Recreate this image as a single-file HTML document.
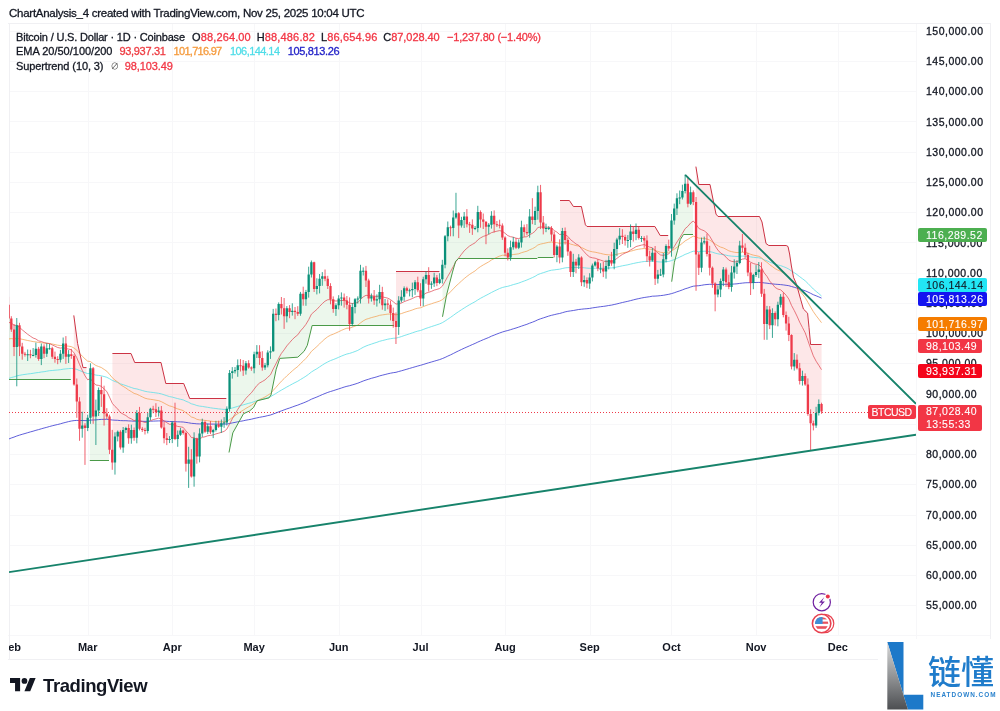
<!DOCTYPE html>
<html lang="en"><head><meta charset="utf-8"><title>BTCUSD chart</title>
<style>
html,body{margin:0;padding:0;background:#fff}
body{width:1000px;height:711px;position:relative;overflow:hidden;font-family:"Liberation Sans","Noto Sans CJK SC",sans-serif;color:#131722}
.t{position:absolute;white-space:nowrap;line-height:1;-webkit-text-stroke:0.3px currentColor}
.title{left:9px;top:7px;font-size:12px;letter-spacing:-0.1px}
.lg{left:16px;font-size:11.5px}
.lg span{margin-left:6px}
.r{color:#f23645}.r2{color:#e8474f}.or{color:#f5a14a}.cy{color:#5fdfe8}.bl{color:#2a2ad4}
.ax{left:926px;font-size:10.5px;letter-spacing:0.5px}
.mo{font-size:11px;font-weight:bold;-webkit-text-stroke:0;transform:translateX(-50%);top:642px}
.tx{position:absolute;left:9px;top:636px;width:907px;height:23px;overflow:hidden}
.pl{position:absolute;left:918px;height:14px;border-radius:2px;color:#fff;font-size:10.5px;letter-spacing:0.5px;line-height:14px;padding-left:8px;-webkit-text-stroke:0.1px currentColor;box-sizing:border-box;white-space:nowrap}
.tv{left:43px;top:676.5px;-webkit-text-stroke:0;font-size:18.5px;font-weight:bold;letter-spacing:-0.4px;color:#131722}
.wm1{-webkit-text-stroke:0;left:928px;top:654px;font-size:33px;font-weight:500;color:#1f7ccb;font-family:"Noto Sans CJK SC","Liberation Sans",sans-serif}
.wm2{-webkit-text-stroke:0;left:930.5px;top:691.6px;font-size:6.4px;font-weight:bold;color:#2a82cd;letter-spacing:1.02px}
</style></head><body>
<svg width="1000" height="711" viewBox="0 0 1000 711" style="position:absolute;left:0;top:0">
<defs><clipPath id="cp"><rect x="9" y="23" width="907" height="612"/></clipPath><linearGradient id="lg" x1="0" y1="0" x2="0" y2="1"><stop offset="0" stop-color="#d9d9d9"/><stop offset="0.45" stop-color="#9a9c9e"/><stop offset="1" stop-color="#4d4f52"/></linearGradient></defs>
<path d="M9 605.5H916M9 575.5H916M9 545.5H916M9 515.5H916M9 484.5H916M9 454.5H916M9 424.5H916M9 394.5H916M9 363.5H916M9 333.5H916M9 303.5H916M9 273.5H916M9 242.5H916M9 212.5H916M9 182.5H916M9 152.5H916M9 121.5H916M9 91.5H916M9 61.5H916M9 31.5H916M88.5 23V635M172.5 23V635M254.5 23V635M339.5 23V635M421.5 23V635M505.5 23V635M590.5 23V635M671.5 23V635M756.5 23V635M838.5 23V635" stroke="#f7f7f9" stroke-width="1" fill="none"/>
<path d="M916.5 23V659M8 635.5H991" stroke="#f7f7f9" stroke-width="1" fill="none"/>
<path d="M9.5 23V659M8 23.5H991M990.5 23V659M8 659.5H991" stroke="#f0f0f3" stroke-width="1" fill="none"/>
<g clip-path="url(#cp)">
<path d="M6 379.5L70.8 379.5L70.8 355.5L68.6 355.5L65.9 350L63.1 348.5L60.4 356.7L57.7 359.4L55 357.9L52.2 352.5L49.5 348.2L46.8 350.9L44.1 350L41.3 352.8L38.6 354L35.9 351.8L33.1 354.9L30.4 354.6L27.7 354.3L25 354L22.2 350L19.5 335.8L16.8 336.1L14 338.2L11.3 324L8.6 311.6L6 307.7Z" fill="rgba(76,175,80,0.105)"/>
<path d="M73.8 315.4L77.6 343.5L83 367.6L86.5 367.6L86.5 426.8L85 426.8L82.2 427.1L79.5 415.1L76.8 393L74.1 370.3L73.8 370.3Z" fill="rgba(242,54,69,0.12)"/>
<path d="M89.8 460.5L109 460.5L109 415.1L106.8 415.1L104.1 403.9L101.3 392.1L98.6 400.2L95.9 413.5L93.2 392.4L90.4 393L89.8 393Z" fill="rgba(76,175,80,0.105)"/>
<path d="M112.4 353.5L131 353.5L134.7 362.5L161 362.5L165.8 383.5L183.7 383.5L189.7 398.5L226.3 398.5L226.3 422.9L224.1 422.9L221.4 425L218.6 425.6L215.9 427.1L213.2 431.1L210.5 429.3L207.7 429L205 426.8L202.3 427.8L199.5 445L196.8 447.4L194.1 457.4L191.4 468L188.6 461.6L185.9 448.3L183.2 431.7L180.5 432.6L177.7 436.8L175 430.8L172.3 430.8L169.5 439.5L166.8 439.2L164.1 432.9L161.4 419L158.6 411.4L155.9 410.8L153.2 409L150.4 412.9L147.7 424.1L145 430.5L142.3 429.3L139.5 420.8L136.8 425.3L134.1 433.8L131.3 434.1L128.6 433.2L125.9 429L123.2 438.6L120.4 439.5L117.7 434.1L115 449.5L112.4 456.2Z" fill="rgba(242,54,69,0.12)"/>
<path d="M229 452.5L232.8 432.9L243.5 413.7L249.5 411L253.5 407.5L257 400.8L269 397.9L271 395L276.2 369.2L279.8 358.4L297.8 357.2L304.2 351.2L307.3 345.3L312.1 325.5L394 325.5L394 317.1L393.2 317.1L390.5 308.9L387.8 304.1L385.1 304.4L382.3 298.6L379.6 295.6L376.9 299.8L374.1 298.3L371.4 297.4L368.7 289.6L366 275.6L363.2 270.8L360.5 284.7L357.8 298.9L355 303.2L352.3 315.6L349.6 314.4L346.9 302.6L344.1 298.9L341.4 298L338.7 302L335.9 307.1L333.2 304.1L330.5 292.6L327.8 282.3L325 277.5L322.3 277.5L319.6 282.3L316.9 287.4L314.1 275.6L311.4 268.4L308.7 283.2L305.9 295.6L303.2 296.5L300.5 303.8L297.8 312.8L295 311.3L292.3 311.3L289.6 310.1L286.8 312.2L284.1 312.2L281.4 306.2L278.7 309.5L275.9 314.4L273.2 332.5L270.5 351.8L267.7 358.8L265 366.4L262.3 362.7L259.6 354.9L256.8 353.1L254.1 361.2L251.4 367.9L248.7 365.5L245.9 367L243.2 368.2L240.5 365.5L237.7 367.6L235 370.6L232.3 372.1L229.6 390.9L229 390.9Z" fill="rgba(76,175,80,0.105)"/>
<path d="M396 271.5L439.4 271.5L439.4 281L436.9 280.2L434.2 280.5L431.4 284.1L428.7 279.9L426 277.2L423.2 288.9L420.5 294.4L417.8 286.2L415.1 285.6L412.3 289.6L409.6 290.5L406.9 289.6L404.1 292.6L401.4 298.6L398.7 313.7L396 324Z" fill="rgba(242,54,69,0.12)"/>
<path d="M442.5 316.8L446.6 294.8L452.5 272.1L455.6 261.3L458.5 258.5L537 258.5L538 257.5L553.4 257.5L553.4 231.2L551.5 231.2L548.7 227.9L546 228.2L543.3 225.4L540.5 207.3L537.8 201.6L535.1 215.5L532.4 218.2L529.6 224.8L526.9 232.7L524.2 229.7L521.5 234.8L518.7 245.1L516 244.8L513.3 244.5L510.5 252.4L507.8 255.1L505.1 245.1L502.4 231.5L499.6 225.1L496.9 224.5L494.2 220L491.4 220.3L488.7 225.7L486 224.2L483.3 220.6L480.5 215.8L477.8 220L475.1 228.2L472.3 226.7L469.6 224.5L466.9 220.3L464.2 218.2L461.4 222.7L458.7 219.4L456 215.5L453.3 222.7L450.5 227.6L447.8 231.8L445.1 250.5L442.5 272Z" fill="rgba(76,175,80,0.105)"/>
<path d="M560 200.5L569.4 200.5L573.4 206.5L581.4 206.5L585.4 224.8L587 226.5L654.9 226.5L660.2 235.5L668.2 235.5L668.2 252.7L666 252.7L663.3 266.9L660.6 274.4L657.9 276.6L655.1 265.7L652.4 256.6L649.7 258.4L646.9 248.4L644.2 239.4L641.5 238.1L638.8 233.9L636 231.8L633.3 232.7L630.6 235.7L627.8 240.3L625.1 238.8L622.4 236.3L619.7 237.5L616.9 244.2L614.2 256.3L611.5 261.7L608.7 262.9L606 268.7L603.3 269.9L600.6 268.4L597.8 265.4L595.1 263.9L592.4 271.4L589.7 280.5L586.9 281.7L584.2 281.1L581.5 269.9L578.7 261.4L576 263.5L573.3 266.9L570.6 261.7L567.8 245.7L565.1 235.4L562.4 244.2L560 252.1Z" fill="rgba(242,54,69,0.12)"/>
<path d="M671.7 281.7L674.4 262.2L677.6 250.2L680.3 239.5L683.5 234.5L693 234.5L693 197.1L690.6 197.9L687.9 193.7L685.1 187.3L682.4 194.3L679.7 197.9L676.9 203.4L674.2 214.6L671.7 234.5Z" fill="rgba(76,175,80,0.105)"/>
<path d="M695.9 166.6L698.8 184.5L710 184.5L716 214.1L718 216.5L759.5 216.5L762 222L766 243.5L768.8 245.5L786.2 245.5L788 246.5L789.6 254L791.4 266L793.5 277.3L796.3 283.7L800.6 299.2L803.4 309L807.6 313.2L809 327.3L810.6 344.5L821.6 344.5L821.6 407.8L821.5 407.8L818.8 408.4L816.1 419.3L813.3 424.4L810.6 418.7L807.9 399.3L805.2 380.3L802.4 378.5L799.7 374.5L797 363.9L794.3 363L791.5 350.6L788.8 329.2L786.1 319.2L783.3 305.9L780.6 300.7L777.9 311.9L775.2 316.2L772.4 319.2L769.7 317.4L767 316.8L764.2 308.9L761.5 281.7L758.8 270.8L756.1 273.5L753.3 279L750.6 277.8L747.9 263.9L745.1 251.5L742.4 246.6L739.7 254.2L737 264.8L734.2 269.6L731.5 279.9L728.8 284.7L726.1 275.9L723.3 275.3L720.6 285.3L717.9 292L715.1 288.9L712.4 275.6L709.7 260.8L707 247.5L704.2 241.8L701.5 255.1L698.8 261.1L696 228.2L695.9 228.2Z" fill="rgba(242,54,69,0.12)"/>
<path d="M9 412.5H916" stroke="#ee3a4a" stroke-width="1" stroke-dasharray="1 2" fill="none"/>
<path d="M5.9 440.3L8.6 439.1L11.3 438L14 437.1L16.8 436L19.5 435.1L22.2 434.3L25 433.5L27.7 432.7L30.4 431.9L33.1 431.2L35.9 430.3L38.6 429.6L41.3 428.8L44.1 428L46.8 427.3L49.5 426.5L52.2 425.8L55 425.1L57.7 424.5L60.4 423.8L63.1 423L65.9 422.3L68.6 421.6L71.3 421L74.1 420.6L76.8 420.4L79.5 420.5L82.2 420.5L85 420.6L87.7 420.6L90.4 420.1L93.2 420L95.9 419.9L98.6 419.6L101.3 419.4L104.1 419.3L106.8 419.3L109.5 419.6L112.3 420L115 420.2L117.7 420.3L120.4 420.6L123.2 420.7L125.9 420.7L128.6 420.9L131.3 421L134.1 421.2L136.8 421.1L139.5 421.2L142.3 421.3L145 421.4L147.7 421.3L150.4 421.2L153.2 421.1L155.9 421L158.6 420.9L161.4 420.9L164.1 421.1L166.8 421.3L169.5 421.5L172.3 421.5L175 421.7L177.7 421.8L180.5 421.9L183.2 422L185.9 422.4L188.6 422.8L191.4 423.3L194.1 423.5L196.8 423.8L199.5 423.9L202.3 423.9L205 423.9L207.7 424L210.5 424.1L213.2 424.1L215.9 424.1L218.6 424.1L221.4 424.1L224.1 424.1L226.8 424L229.6 423.5L232.3 422.9L235 422.4L237.7 421.8L240.5 421.3L243.2 420.8L245.9 420.2L248.7 419.7L251.4 419.2L254.1 418.5L256.8 417.9L259.6 417.3L262.3 416.8L265 416.3L267.7 415.6L270.5 415L273.2 414L275.9 413L278.7 411.9L281.4 410.9L284.1 409.9L286.8 408.9L289.6 408L292.3 407L295 406L297.8 405.1L300.5 404L303.2 403L305.9 401.9L308.7 400.6L311.4 399.2L314.1 398.1L316.9 397L319.6 395.8L322.3 394.6L325 393.5L327.8 392.4L330.5 391.5L333.2 390.7L335.9 389.8L338.7 388.9L341.4 388L344.1 387.1L346.9 386.3L349.6 385.7L352.3 384.9L355 384.1L357.8 383.2L360.5 382.1L363.2 381L366 380L368.7 379.2L371.4 378.3L374.1 377.6L376.9 376.8L379.6 375.9L382.3 375.2L385.1 374.5L387.8 373.8L390.5 373.2L393.2 372.7L396 372.3L398.7 371.5L401.4 370.8L404.1 370L406.9 369.2L409.6 368.4L412.3 367.6L415.1 366.8L417.8 366L420.5 365.3L423.2 364.5L426 363.6L428.7 362.8L431.4 362L434.2 361.2L436.9 360.4L439.6 359.6L442.3 358.6L445.1 357.4L447.8 356.1L450.5 354.9L453.3 353.5L456 352.1L458.7 350.8L461.4 349.5L464.2 348.2L466.9 347L469.6 345.8L472.3 344.6L475.1 343.4L477.8 342.1L480.5 340.9L483.3 339.7L486 338.6L488.7 337.5L491.4 336.2L494.2 335.1L496.9 334L499.6 333L502.4 332L505.1 331.2L507.8 330.5L510.5 329.7L513.3 328.8L516 328L518.7 327.1L521.5 326.1L524.2 325.2L526.9 324.3L529.6 323.2L532.4 322.2L535.1 321.1L537.8 319.8L540.5 318.8L543.3 317.9L546 317L548.7 316.1L551.5 315.3L554.2 314.7L556.9 314L559.6 313.5L562.4 312.7L565.1 311.9L567.8 311.3L570.6 310.9L573.3 310.5L576 310L578.7 309.5L581.5 309.2L584.2 308.9L586.9 308.7L589.7 308.4L592.4 307.9L595.1 307.5L597.8 307.1L600.6 306.7L603.3 306.4L606 306L608.7 305.5L611.5 305.1L614.2 304.5L616.9 303.9L619.7 303.2L622.4 302.5L625.1 301.9L627.8 301.3L630.6 300.6L633.3 299.9L636 299.2L638.8 298.6L641.5 298L644.2 297.5L646.9 297.1L649.7 296.7L652.4 296.2L655.1 296.1L657.9 295.9L660.6 295.6L663.3 295.3L666 294.8L668.8 294.3L671.5 293.6L674.2 292.8L676.9 291.8L679.7 290.9L682.4 289.9L685.1 288.8L687.9 288L690.6 287L693.3 286.2L696 285.9L698.8 285.7L701.5 285.3L704.2 284.8L707 284.5L709.7 284.3L712.4 284.3L715.1 284.4L717.9 284.5L720.6 284.4L723.3 284.3L726.1 284.3L728.8 284.3L731.5 284.2L734.2 284L737 283.8L739.7 283.4L742.4 283.1L745.1 282.8L747.9 282.7L750.6 282.7L753.3 282.6L756.1 282.5L758.8 282.4L761.5 282.5L764.2 282.9L767 283.2L769.7 283.6L772.4 283.9L775.2 284.2L777.9 284.4L780.6 284.6L783.3 284.9L786.1 285.3L788.8 285.7L791.5 286.5L794.3 287.3L797 288.1L799.7 289L802.4 289.9L805.2 290.8L807.9 292L810.6 293.3L813.3 294.7L816.1 295.8L818.8 296.9L821.5 298.1" stroke="#3c3cd2" stroke-width="1" stroke-opacity="0.82" fill="none" stroke-linejoin="round"/>
<path d="M5.9 379.7L8.6 378.5L11.3 377.5L14 376.9L16.8 375.9L19.5 375.3L22.2 374.8L25 374.4L27.7 374L30.4 373.7L33.1 373.3L35.9 372.8L38.6 372.5L41.3 372L44.1 371.7L46.8 371.2L49.5 370.7L52.2 370.5L55 370.2L57.7 370L60.4 369.7L63.1 369.2L65.9 368.9L68.6 368.6L71.3 368.4L74.1 368.7L76.8 369.4L79.5 370.5L82.2 371.6L85 372.7L87.7 373.6L90.4 373.5L93.2 374.4L95.9 375.1L98.6 375.4L101.3 375.8L104.1 376.5L106.8 377.3L109.5 378.7L112.3 380.4L115 381.5L117.7 382.5L120.4 383.8L123.2 384.7L125.9 385.6L128.6 386.6L131.3 387.5L134.1 388.5L136.8 388.9L139.5 389.7L142.3 390.5L145 391.3L147.7 391.8L150.4 392.2L153.2 392.5L155.9 392.9L158.6 393.3L161.4 393.9L164.1 394.8L166.8 395.7L169.5 396.6L172.3 397.1L175 397.9L177.7 398.6L180.5 399.3L183.2 399.9L185.9 401.2L188.6 402.3L191.4 403.8L194.1 404.5L196.8 405.5L199.5 406.1L202.3 406.4L205 406.9L207.7 407.3L210.5 407.8L213.2 408.2L215.9 408.5L218.6 408.9L221.4 409.2L224.1 409.4L226.8 409.4L229.6 408.7L232.3 408L235 407.2L237.7 406.4L240.5 405.6L243.2 404.9L245.9 404.1L248.7 403.3L251.4 402.6L254.1 401.7L256.8 400.7L259.6 399.9L262.3 399.2L265 398.5L267.7 397.6L270.5 396.7L273.2 395.1L275.9 393.5L278.7 391.7L281.4 390.1L284.1 388.6L286.8 387L289.6 385.5L292.3 384L295 382.6L297.8 381.2L300.5 379.5L303.2 377.9L305.9 376.2L308.7 374.2L311.4 372L314.1 370.3L316.9 368.7L319.6 366.9L322.3 365.1L325 363.4L327.8 361.9L330.5 360.6L333.2 359.6L335.9 358.5L338.7 357.3L341.4 356.1L344.1 355L346.9 354L349.6 353.4L352.3 352.5L355 351.5L357.8 350.4L360.5 348.8L363.2 347.3L366 346L368.7 345L371.4 344.1L374.1 343.2L376.9 342.3L379.6 341.3L382.3 340.6L385.1 339.9L387.8 339.2L390.5 338.7L393.2 338.3L396 338.1L398.7 337.4L401.4 336.6L404.1 335.6L406.9 334.7L409.6 333.8L412.3 332.9L415.1 331.9L417.8 331.1L420.5 330.5L423.2 329.5L426 328.4L428.7 327.5L431.4 326.6L434.2 325.7L436.9 324.8L439.6 323.9L442.3 322.7L445.1 321L447.8 319.2L450.5 317.4L453.3 315.4L456 313.4L458.7 311.6L461.4 309.8L464.2 308L466.9 306.3L469.6 304.7L472.3 303.2L475.1 301.7L477.8 299.9L480.5 298.3L483.3 296.8L486 295.4L488.7 294L491.4 292.5L494.2 291.1L496.9 289.8L499.6 288.5L502.4 287.5L505.1 286.8L507.8 286.3L510.5 285.5L513.3 284.6L516 283.9L518.7 283.1L521.5 282L524.2 281L526.9 280L529.6 278.8L532.4 277.6L535.1 276.3L537.8 274.6L540.5 273.6L543.3 272.7L546 271.8L548.7 270.9L551.5 270.2L554.2 269.9L556.9 269.5L559.6 269.2L562.4 268.5L565.1 267.9L567.8 267.6L570.6 267.7L573.3 267.5L576 267.5L578.7 267.3L581.5 267.6L584.2 267.8L586.9 268.1L589.7 268.3L592.4 268.3L595.1 268.2L597.8 268.2L600.6 268.2L603.3 268.2L606 268.2L608.7 268L611.5 267.9L614.2 267.6L616.9 267L619.7 266.4L622.4 265.8L625.1 265.3L627.8 264.8L630.6 264.1L633.3 263.5L636 262.9L638.8 262.4L641.5 261.9L644.2 261.5L646.9 261.4L649.7 261.4L652.4 261.2L655.1 261.5L657.9 261.8L660.6 262L663.3 262L666 261.7L668.8 261.4L671.5 260.6L674.2 259.6L676.9 258.4L679.7 257.1L682.4 255.8L685.1 254.4L687.9 253.4L690.6 252.2L693.3 251.2L696 251.3L698.8 251.6L701.5 251.4L704.2 251.2L707 251.3L709.7 251.6L712.4 252.2L715.1 253.1L717.9 253.8L720.6 254.3L723.3 254.6L726.1 255.2L728.8 255.8L731.5 256.1L734.2 256.3L737 256.5L739.7 256.2L742.4 256.1L745.1 256.1L747.9 256.4L750.6 256.9L753.3 257.3L756.1 257.6L758.8 257.8L761.5 258.5L764.2 259.8L767 260.8L769.7 262.1L772.4 263.1L775.2 264.2L777.9 265L780.6 265.6L783.3 266.6L786.1 267.7L788.8 269.1L791.5 271L794.3 272.7L797 274.6L799.7 276.7L802.4 278.7L805.2 280.8L807.9 283.4L810.6 286.2L813.3 289L816.1 291.4L818.8 293.6L821.5 296" stroke="#62dfe6" stroke-width="1" stroke-opacity="0.82" fill="none" stroke-linejoin="round"/>
<path d="M5.9 339.8L8.6 339L11.3 338.6L14 339L16.8 338.4L19.5 338.7L22.2 339.3L25 339.9L27.7 340.5L30.4 341L33.1 341.6L35.9 341.9L38.6 342.5L41.3 342.7L44.1 343.1L46.8 343.3L49.5 343.5L52.2 344L55 344.6L57.7 345.2L60.4 345.5L63.1 345.5L65.9 345.9L68.6 346.2L71.3 346.6L74.1 348.1L76.8 350.2L79.5 353.3L82.2 356.1L85 358.9L87.7 361.2L90.4 361.5L93.2 363.7L95.9 365.5L98.6 366.5L101.3 367.5L104.1 369.4L106.8 371.2L109.5 374.3L112.3 377.7L115 380.1L117.7 382.1L120.4 384.6L123.2 386.4L125.9 388L128.6 390L131.3 391.6L134.1 393.4L136.8 394.2L139.5 395.5L142.3 396.9L145 398.2L147.7 398.9L150.4 399.3L153.2 399.7L155.9 400.2L158.6 400.6L161.4 401.7L164.1 403.1L166.8 404.6L169.5 405.9L172.3 406.6L175 407.8L177.7 408.9L180.5 409.7L183.2 410.6L185.9 412.7L188.6 414.6L191.4 417L194.1 417.8L196.8 419.3L199.5 419.9L202.3 420L205 420.4L207.7 420.7L210.5 421.1L213.2 421.5L215.9 421.6L218.6 421.8L221.4 421.8L224.1 421.9L226.8 421.4L229.6 419.5L232.3 417.6L235 415.7L237.7 413.7L240.5 411.8L243.2 410.2L245.9 408.4L248.7 406.8L251.4 405.3L254.1 403.3L256.8 401.3L259.6 399.6L262.3 398.3L265 397L267.7 395.3L270.5 393.5L273.2 390.4L275.9 387.4L278.7 384.2L281.4 381.2L284.1 378.6L286.8 375.9L289.6 373.4L292.3 370.9L295 368.6L297.8 366.5L300.5 363.6L303.2 361.1L305.9 358.4L308.7 355.1L311.4 351.4L314.1 349L316.9 346.5L319.6 343.9L322.3 341.2L325 338.8L327.8 336.7L330.5 335.2L333.2 334.2L335.9 333L338.7 331.7L341.4 330.4L344.1 329.2L346.9 328.2L349.6 328.1L352.3 327.2L355 326.1L357.8 325.1L360.5 322.9L363.2 320.9L366 319.3L368.7 318.5L371.4 317.6L374.1 316.9L376.9 316.2L379.6 315.3L382.3 314.9L385.1 314.5L387.8 314.1L390.5 314L393.2 314.3L396 314.8L398.7 314.2L401.4 313.6L404.1 312.6L406.9 311.7L409.6 310.9L412.3 310L415.1 308.9L417.8 308.2L420.5 307.8L423.2 306.7L426 305.5L428.7 304.6L431.4 303.8L434.2 302.8L436.9 302L439.6 301.1L442.3 299.7L445.1 297.2L447.8 294.5L450.5 291.8L453.3 288.9L456 286L458.7 283.6L461.4 281.1L464.2 278.6L466.9 276.4L469.6 274.4L472.3 272.6L475.1 270.9L477.8 268.5L480.5 266.6L483.3 264.9L486 263.4L488.7 261.9L491.4 260L494.2 258.6L496.9 257.3L499.6 256.1L502.4 255.3L505.1 255.2L507.8 255.3L510.5 255L513.3 254.5L516 254.2L518.7 253.8L521.5 252.7L524.2 251.9L526.9 251.2L529.6 249.8L532.4 248.7L535.1 247.2L537.8 245L540.5 244.1L543.3 243.5L546 242.9L548.7 242.3L551.5 242L554.2 242.5L556.9 242.7L559.6 243.3L562.4 242.8L565.1 242.7L567.8 243L570.6 244.1L573.3 244.8L576 245.6L578.7 246.1L581.5 247.5L584.2 248.8L586.9 250.2L589.7 251.2L592.4 251.8L595.1 252.2L597.8 252.8L600.6 253.4L603.3 254.1L606 254.6L608.7 254.8L611.5 255.2L614.2 254.9L616.9 254.3L619.7 253.6L622.4 252.9L625.1 252.4L627.8 252L630.6 251.2L633.3 250.5L636 249.7L638.8 249.2L641.5 248.8L644.2 248.5L646.9 248.8L649.7 249.2L652.4 249.4L655.1 250.5L657.9 251.4L660.6 252.3L663.3 252.6L666 252.4L668.8 252.2L671.5 251L674.2 249.3L676.9 247.3L679.7 245.4L682.4 243.2L685.1 240.9L687.9 239.4L690.6 237.6L693.3 236.2L696 236.9L698.8 238.1L701.5 238.3L704.2 238.4L707 239L709.7 240.1L712.4 241.8L715.1 243.9L717.9 245.7L720.6 247.1L723.3 247.9L726.1 249.3L728.8 250.8L731.5 251.6L734.2 252.2L737 252.6L739.7 252.4L742.4 252.2L745.1 252.3L747.9 253.1L750.6 254.3L753.3 255.1L756.1 255.7L758.8 256.3L761.5 257.8L764.2 260.4L767 262.3L769.7 264.7L772.4 266.6L775.2 268.7L777.9 270.1L780.6 271.2L783.3 272.9L786.1 274.9L788.8 277.2L791.5 280.7L794.3 283.8L797 287.1L799.7 290.8L802.4 294.1L805.2 297.7L807.9 302.3L810.6 307L813.3 311.6L816.1 315.6L818.8 319.1L821.5 322.7" stroke="#f3a050" stroke-width="0.9" stroke-opacity="0.82" fill="none" stroke-linejoin="round"/>
<path d="M5.9 322.7L8.6 322.3L11.3 323L14 325.3L16.8 325.3L19.5 327.3L22.2 329.8L25 332.1L27.7 334.3L30.4 336.2L33.1 338L35.9 339L38.6 340.9L41.3 341.5L44.1 342.6L46.8 343.2L49.5 343.6L52.2 344.9L55 346.2L57.7 347.5L60.4 348.1L63.1 347.7L65.9 348.5L68.6 349.1L71.3 349.7L74.1 353L76.8 357.7L79.5 364.4L82.2 370.2L85 375.8L87.7 379.8L90.4 378.7L93.2 382.3L95.9 385L98.6 385.4L101.3 386.3L104.1 388.9L106.8 391.5L109.5 397.1L112.3 403.3L115 406.5L117.7 408.9L120.4 412.5L123.2 414.2L125.9 415.5L128.6 417.7L131.3 418.8L134.1 420.6L136.8 419.9L139.5 420.7L142.3 421.6L145 422.5L147.7 422L150.4 420.7L153.2 419.6L155.9 418.9L158.6 418.1L161.4 419L164.1 420.9L166.8 422.7L169.5 424.3L172.3 424.1L175 425.5L177.7 426.4L180.5 426.8L183.2 427.4L185.9 430.8L188.6 433.6L191.4 437.6L194.1 437.7L196.8 439.5L199.5 438.9L202.3 437.3L205 436.8L207.7 435.8L210.5 435.4L213.2 434.9L215.9 433.9L218.6 433.2L221.4 432.3L224.1 431.4L226.8 429.2L229.6 423.9L232.3 418.8L235 414.2L237.7 409.5L240.5 405.3L243.2 402L245.9 398.4L248.7 395.4L251.4 392.8L254.1 389.2L256.8 385.6L259.6 383L262.3 381.5L265 379.9L267.7 377.3L270.5 374.8L273.2 369L275.9 363.9L278.7 358.2L281.4 353.4L284.1 349.9L286.8 345.9L289.6 342.7L292.3 339.6L295 337L297.8 334.8L300.5 330.9L303.2 327.9L305.9 324.4L308.7 319.7L311.4 314.2L314.1 311.8L316.9 309.4L319.6 306.4L322.3 303.6L325 301.2L327.8 299.7L330.5 299.7L333.2 300.6L335.9 301L338.7 300.8L341.4 300.5L344.1 300.5L346.9 300.9L349.6 303.1L352.3 303.5L355 303L357.8 302.6L360.5 299.6L363.2 296.9L366 295.3L368.7 295.6L371.4 295.7L374.1 296.1L376.9 296.4L379.6 296L382.3 296.9L385.1 297.5L387.8 298.2L390.5 299.6L393.2 301.7L396 304.1L398.7 303.7L401.4 303.1L404.1 301.7L406.9 300.6L409.6 299.6L412.3 298.6L415.1 297.1L417.8 296.4L420.5 296.6L423.2 295L426 293.1L428.7 292.3L431.4 291.4L434.2 290.1L436.9 289.4L439.6 288.5L442.3 286.2L445.1 281.4L447.8 276.3L450.5 271.7L453.3 266.5L456 261.5L458.7 258L461.4 254.4L464.2 250.8L466.9 248.3L469.6 246L472.3 244.4L475.1 242.8L477.8 239.9L480.5 237.9L483.3 236.4L486 235.5L488.7 234.4L491.4 232.7L494.2 231.9L496.9 231.2L499.6 230.6L502.4 231.3L505.1 233.3L507.8 235.6L510.5 236.7L513.3 237.2L516 238.2L518.7 238.6L521.5 237.5L524.2 237L526.9 236.7L529.6 234.7L532.4 233.3L535.1 231.2L537.8 227.5L540.5 227L543.3 227.1L546 227.2L548.7 227.3L551.5 228L554.2 230.5L556.9 232.1L559.6 234.5L562.4 234.2L565.1 234.7L567.8 236.3L570.6 239.7L573.3 241.8L576 244L578.7 245.3L581.5 248.8L584.2 251.8L586.9 254.8L589.7 257L592.4 257.8L595.1 258.2L597.8 259.2L600.6 260.1L603.3 261.1L606 261.6L608.7 261.4L611.5 261.6L614.2 260.4L616.9 258.4L619.7 256.3L622.4 254.4L625.1 253.1L627.8 251.9L630.6 249.9L633.3 248.4L636 246.6L638.8 245.8L641.5 245.1L644.2 244.6L646.9 245.8L649.7 247.2L652.4 247.7L655.1 250.6L657.9 252.9L660.6 255L663.3 255.4L666 254.5L668.8 253.9L671.5 250.7L674.2 246.7L676.9 242.1L679.7 237.9L682.4 233.4L685.1 228.7L687.9 226.3L690.6 223L693.3 221L696 224.2L698.8 228.4L701.5 229.7L704.2 230.8L707 233L709.7 236.3L712.4 240.8L715.1 245.9L717.9 250.1L720.6 253L723.3 254.6L726.1 257.2L728.8 260.1L731.5 261.3L734.2 261.8L737 261.9L739.7 260.3L742.4 259.1L745.1 258.7L747.9 260.1L750.6 262.2L753.3 263.5L756.1 264.3L758.8 264.8L761.5 267.5L764.2 272.9L767 276.4L769.7 281.1L772.4 284.1L775.2 287.5L777.9 289.1L780.6 289.8L783.3 292.2L786.1 295.2L788.8 299L791.5 305.4L794.3 310.6L797 316.1L799.7 322.2L802.4 327.4L805.2 332.8L807.9 340.5L810.6 348.4L813.3 355.8L816.1 361.2L818.8 365.3L821.5 369.7" stroke="#e04a55" stroke-width="0.9" stroke-opacity="0.82" fill="none" stroke-linejoin="round"/>
<path d="M6 379.5L70.8 379.5" stroke="#4a9a48" stroke-width="1" fill="none" stroke-linejoin="round"/>
<path d="M73.8 315.4L77.6 343.5L83 367.6L86.5 367.6" stroke="#cc3344" stroke-width="1" fill="none" stroke-linejoin="round"/>
<path d="M89.8 460.5L109 460.5" stroke="#4a9a48" stroke-width="1" fill="none" stroke-linejoin="round"/>
<path d="M112.4 353.5L131 353.5L134.7 362.5L161 362.5L165.8 383.5L183.7 383.5L189.7 398.5L226.3 398.5" stroke="#cc3344" stroke-width="1" fill="none" stroke-linejoin="round"/>
<path d="M229 452.5L232.8 432.9L243.5 413.7L249.5 411L253.5 407.5L257 400.8L269 397.9L271 395L276.2 369.2L279.8 358.4L297.8 357.2L304.2 351.2L307.3 345.3L312.1 325.5L394 325.5" stroke="#4a9a48" stroke-width="1" fill="none" stroke-linejoin="round"/>
<path d="M396 271.5L439.4 271.5" stroke="#cc3344" stroke-width="1" fill="none" stroke-linejoin="round"/>
<path d="M442.5 316.8L446.6 294.8L452.5 272.1L455.6 261.3L458.5 258.5L537 258.5L538 257.5L553.4 257.5" stroke="#4a9a48" stroke-width="1" fill="none" stroke-linejoin="round"/>
<path d="M560 200.5L569.4 200.5L573.4 206.5L581.4 206.5L585.4 224.8L587 226.5L654.9 226.5L660.2 235.5L668.2 235.5" stroke="#cc3344" stroke-width="1" fill="none" stroke-linejoin="round"/>
<path d="M671.7 281.7L674.4 262.2L677.6 250.2L680.3 239.5L683.5 234.5L693 234.5" stroke="#4a9a48" stroke-width="1" fill="none" stroke-linejoin="round"/>
<path d="M695.9 166.6L698.8 184.5L710 184.5L716 214.1L718 216.5L759.5 216.5L762 222L766 243.5L768.8 245.5L786.2 245.5L788 246.5L789.6 254L791.4 266L793.5 277.3L796.3 283.7L800.6 299.2L803.4 309L807.6 313.2L809 327.3L810.6 344.5L821.6 344.5" stroke="#cc3344" stroke-width="1" fill="none" stroke-linejoin="round"/>
<path d="M5.86 294.4V313.1M16.77 318V386.3M27.68 349.5V361M33.14 348V356.2M35.87 342.6V357.6M41.32 343.5V365.1M46.78 343.3V356.9M49.51 343.9V349.6M60.42 349.9V362.5M63.15 337.5V358.9M68.6 350.1V363M82.24 411.7V437.7M87.7 414.7V431.1M90.43 363.3V423.8M95.88 399.6V445M98.61 387.5V416M114.98 432.3V474.6M117.71 430.5V441.4M123.16 427V452.8M125.89 426.8V433.1M131.35 424.7V443.7M136.8 410.1V443.3M147.72 413.1V433.4M150.44 407.8V420.3M158.63 406.8V416.6M169.54 436.1V443.1M172.27 421.2V443.1M177.72 430.5V446.8M180.45 427.8V435.9M188.64 446.8V487.9M194.09 432.3V486.7M199.55 428.3V462.4M202.28 418.7V436.9M207.73 423.6V434M213.19 428.9V438.1M215.92 420.8V431.5M221.37 419.5V432.9M224.1 417.1V427.8M226.83 406.4V425.5M229.56 370V411.7M232.28 367.1V378.6M235.01 367.1V373.5M237.74 359.4V376.8M245.92 361V374.6M254.11 351.7V373.3M256.84 345.1V358M265.02 362.9V369.9M267.75 350.3V367.4M270.48 346.4V358.9M273.2 308.9V351.8M278.66 302.4V320.3M286.84 306.1V322.4M292.3 303.3V315.6M300.48 291.9V315.8M305.94 289.9V305.8M308.67 266.7V297.6M311.4 260.5V277.5M316.85 278.3V294.4M319.58 274V293.4M322.31 272.1V285.8M335.95 303.3V315.9M338.68 295.2V309.4M341.4 292.4V305.7M352.32 303.2V326.3M355.04 298.1V313.4M357.77 296.4V303.5M360.5 264.8V303.5M363.23 267.4V275.5M371.41 293.5V301.6M376.87 294.4V306.6M379.6 284.8V303.3M385.05 299V310.9M398.69 296.2V334.9M401.42 290.2V302.5M404.15 286.4V300.9M409.6 288.6V296.4M412.33 282.6V297.3M415.06 280.1V294.9M423.24 276.7V306.1M425.97 271.2V283.7M431.43 281.3V288.8M434.16 272.8V286.9M439.61 273.2V284.2M442.34 259.8V283.5M445.07 235V268.3M447.8 221.5V241.3M453.25 210.5V236.3M455.98 192.8V218.8M461.44 216.8V227.6M464.16 212V228M475.08 226V230.1M477.8 205.8V232.3M488.72 223.1V234.2M491.44 211.2V228.6M510.54 240.6V260.7M513.27 237V249.7M518.72 239.4V249.1M521.45 220.7V247.6M529.64 209.1V237.7M535.09 206.7V225M537.82 185.7V219.7M546 223.7V232.2M548.73 226.2V230M556.92 244.8V262.2M562.37 227.9V262.3M573.28 253.8V277M578.74 254.2V269M584.2 275.5V286.8M589.65 273.2V288.9M592.38 263.6V281.4M595.11 260.9V266.7M600.56 263.2V273.2M606.02 259.9V278.7M608.75 256V269.4M614.2 242.7V269.3M616.93 237.8V256.2M619.66 228.1V245.1M627.84 235.1V247.8M630.57 224.4V247.2M636.03 223.5V240.2M641.48 236V242M652.4 248V261.7M657.85 269.9V283.5M660.58 268.8V276M663.31 253V277.3M666.04 244.3V262.4M671.49 214V256.7M674.22 203.6V224.7M676.95 193.3V215M679.68 190.5V204.2M682.4 184.7V199.5M685.13 174.6V193.4M690.59 186.6V205M701.5 237.6V272.2M704.23 236.6V244.4M717.87 285.4V297.3M720.6 278.5V297.1M723.32 267V286.2M731.51 265.9V291.7M734.24 259.3V278.6M736.96 260.2V274M739.69 240.8V264.3M753.33 273.9V289.2M756.06 265.1V277M758.79 262V278.1M766.97 305.9V339.8M772.43 308.3V337.9M777.88 301.7V326.3M780.61 294.1V307.5M794.25 353.1V370.6M802.44 370.7V385.6M816.08 406.8V427.9M818.8 399.4V415.5" stroke="#0a9079" stroke-width="1" stroke-opacity="0.8" fill="none"/>
<path d="M8.59 296.8V324M11.32 316.2V331.9M14.04 324V356.1M19.5 322.8V356.1M22.23 342.8V359.7M24.96 351.9V356.6M30.41 349.8V358.3M38.6 346.9V360.8M44.05 344.3V358.2M52.24 346.8V358.9M54.96 351.6V362.7M57.69 356.2V364.2M65.88 336.1V363.9M71.33 348.9V358.8M74.06 354.3V385.7M76.79 378.5V417.8M79.52 397.2V440.8M84.97 423.2V464.9M93.16 367V423.8M101.34 376.6V406.9M104.07 385.7V425.6M106.8 408.2V419M109.52 414.7V454.1M112.25 429.9V469.8M120.44 430.2V449.5M128.62 424.3V443.8M134.08 427.5V440.8M139.53 406.9V430.4M142.26 426.9V432M144.99 427.8V434.5M153.17 405.8V413.3M155.9 403.2V417M161.36 406V428.6M164.08 421.9V443.3M166.81 433V445.1M175 402.7V440.1M183.18 429.6V434.6M185.91 431.7V471.6M191.36 449.2V477.6M196.82 437.7V463.7M205 420.7V433.1M210.46 421V434M218.64 420.7V427.9M240.47 359.1V371.5M243.2 360V375.9M248.65 360.2V368.7M251.38 366.4V370.8M259.56 345.2V364.9M262.29 351.2V370.7M275.93 308.5V321.2M281.39 297V314.5M284.12 298V328.9M289.57 305.1V318.2M295.03 307V319.2M297.76 306.2V315.9M303.21 286.7V305.7M314.12 261.7V292M325.04 269.5V281.2M327.76 275.8V289M330.49 283.2V304.3M333.22 296.4V312.8M344.13 293.5V307.6M346.86 296V309.3M349.59 297.4V330.7M365.96 265.9V287M368.68 278.7V303.5M374.14 290V304.9M382.32 286.8V309.7M387.78 299.4V309.3M390.51 300.5V320.4M393.24 307.6V327.7M395.96 312.5V344M406.88 286.7V293.5M417.79 276.7V292.2M420.52 283.2V306.2M428.7 267.2V291.5M436.88 275V286.2M450.52 225.6V236.3M458.71 212.1V238.1M466.89 209.1V227.4M469.62 221.9V232.9M472.35 219.4V234.9M480.53 210.4V227.7M483.26 213.5V229M485.99 221.2V244.2M494.17 210.4V232.4M496.9 221V227M499.63 219.7V228.4M502.36 223.4V239.9M505.08 236.3V256.3M507.81 248.4V260.5M516 238.1V249.1M524.18 224.6V236.8M526.91 224.1V235.3M532.36 198.2V224.2M540.55 184.9V229.1M543.28 216V234.4M551.46 226.1V241.2M554.19 231.5V257.4M559.64 239.3V263.4M565.1 227.5V244.5M567.83 237.6V255.8M570.56 250.8V276.9M576.01 258.9V273.3M581.47 256.3V286.1M586.92 277.4V288.1M597.84 259.1V271.2M603.29 262V277.1M611.48 251.9V265.8M622.39 229.2V244M625.12 234.7V245.6M633.3 226V241.6M638.76 226.8V239.6M644.21 236.2V247.8M646.94 235.4V262M649.67 250.7V266.5M655.12 246V285M668.76 239.6V251.1M687.86 176.7V207.3M693.32 190.4V205.2M696.04 197V290.8M698.77 252.1V275M706.96 233.6V256.5M709.68 245.8V275.5M712.41 266.5V287.8M715.14 282.3V311.3M726.05 267.5V287M728.78 274.7V289.2M742.42 233.9V252.1M745.15 243.4V258.4M747.88 252.9V276.2M750.6 262.9V295M761.52 262.3V296.9M764.24 288.9V339.8M769.7 306.1V329.1M775.16 311.4V325.6M783.34 292.4V317.3M786.07 311.5V330.6M788.8 316.8V341.1M791.52 334.3V369.4M796.98 354.4V369.5M799.71 362.9V384.5M805.16 373.4V385.8M807.89 378.4V415.8M810.62 409.3V450.4M813.35 420.7V430.4M821.53 402.7V413.8" stroke="#ee3a4a" stroke-width="1" stroke-opacity="0.8" fill="none"/>
<path d="M4.71 304.7h2.3V310.7h-2.3ZM15.62 325.2h2.3V347h-2.3ZM26.53 354.3h2.3V355.3h-2.3ZM31.99 354.9h2.3V355.9h-2.3ZM34.72 348.8h2.3V354.9h-2.3ZM40.17 346.4h2.3V359.1h-2.3ZM45.63 348.2h2.3V353.7h-2.3ZM48.36 348.2h2.3V349.2h-2.3ZM59.27 353.7h2.3V359.7h-2.3ZM62 343.4h2.3V353.7h-2.3ZM67.45 354.3h2.3V356.7h-2.3ZM81.09 425.6h2.3V428.7h-2.3ZM86.55 417.8h2.3V428.1h-2.3ZM89.28 368.2h2.3V417.8h-2.3ZM94.73 410.5h2.3V416.6h-2.3ZM97.46 390h2.3V410.5h-2.3ZM113.83 436.5h2.3V462.5h-2.3ZM116.56 431.7h2.3V436.5h-2.3ZM122.01 429.9h2.3V447.4h-2.3ZM124.74 428.1h2.3V429.9h-2.3ZM130.2 429.9h2.3V438.3h-2.3ZM135.65 412.9h2.3V437.7h-2.3ZM146.57 417.2h2.3V431.1h-2.3ZM149.29 408.7h2.3V417.2h-2.3ZM157.48 410.5h2.3V412.3h-2.3ZM168.39 438.9h2.3V440.1h-2.3ZM171.12 422.6h2.3V438.9h-2.3ZM176.57 434.7h2.3V438.9h-2.3ZM179.3 430.5h2.3V434.7h-2.3ZM187.49 459.5h2.3V463.7h-2.3ZM192.94 438.3h2.3V476.4h-2.3ZM198.4 433.5h2.3V456.5h-2.3ZM201.13 422h2.3V433.5h-2.3ZM206.58 426.2h2.3V431.7h-2.3ZM212.04 429.9h2.3V432.3h-2.3ZM214.77 424.4h2.3V429.9h-2.3ZM220.22 423.2h2.3V426.8h-2.3ZM222.95 422.6h2.3V423.6h-2.3ZM225.68 408.7h2.3V422.6h-2.3ZM228.41 373h2.3V408.7h-2.3ZM231.13 371.2h2.3V373h-2.3ZM233.86 370h2.3V371.2h-2.3ZM236.59 365.2h2.3V370h-2.3ZM244.77 363.3h2.3V370.6h-2.3ZM252.96 354.3h2.3V368.2h-2.3ZM255.69 351.8h2.3V354.3h-2.3ZM263.87 365.2h2.3V367.6h-2.3ZM266.6 352.5h2.3V365.2h-2.3ZM269.33 351.2h2.3V352.5h-2.3ZM272.05 313.7h2.3V351.2h-2.3ZM277.51 304.1h2.3V315h-2.3ZM285.69 308.3h2.3V316.2h-2.3ZM291.15 310.7h2.3V311.9h-2.3ZM299.33 293.8h2.3V313.7h-2.3ZM304.79 292h2.3V299.2h-2.3ZM307.52 274.4h2.3V292h-2.3ZM310.25 262.3h2.3V274.4h-2.3ZM315.7 285.9h2.3V288.9h-2.3ZM318.43 278.7h2.3V285.9h-2.3ZM321.16 276.2h2.3V278.7h-2.3ZM334.8 305.3h2.3V308.9h-2.3ZM337.53 298.6h2.3V305.3h-2.3ZM340.25 297.4h2.3V298.6h-2.3ZM351.17 307.1h2.3V324h-2.3ZM353.89 299.2h2.3V307.1h-2.3ZM356.62 298.6h2.3V299.6h-2.3ZM359.35 270.8h2.3V298.6h-2.3ZM362.08 270.8h2.3V271.8h-2.3ZM370.26 296.2h2.3V298.6h-2.3ZM375.72 299.2h2.3V300.4h-2.3ZM378.45 292h2.3V299.2h-2.3ZM383.9 303.5h2.3V305.3h-2.3ZM397.54 300.4h2.3V327.1h-2.3ZM400.27 296.8h2.3V300.4h-2.3ZM403 288.3h2.3V296.8h-2.3ZM408.45 290.2h2.3V291.2h-2.3ZM411.18 288.9h2.3V290.2h-2.3ZM413.91 282.3h2.3V288.9h-2.3ZM422.09 279.3h2.3V298.6h-2.3ZM424.82 275h2.3V279.3h-2.3ZM430.28 283.5h2.3V284.7h-2.3ZM433.01 277.5h2.3V283.5h-2.3ZM438.46 279.3h2.3V282.9h-2.3ZM441.19 264.8h2.3V279.3h-2.3ZM443.92 236.3h2.3V264.8h-2.3ZM446.65 227.3h2.3V236.3h-2.3ZM452.1 217.6h2.3V227.9h-2.3ZM454.83 213.3h2.3V217.6h-2.3ZM460.29 220h2.3V225.4h-2.3ZM463.01 216.4h2.3V220h-2.3ZM473.93 227.9h2.3V228.9h-2.3ZM476.65 212.1h2.3V227.9h-2.3ZM487.57 224.8h2.3V226.7h-2.3ZM490.29 215.8h2.3V224.8h-2.3ZM509.39 247.2h2.3V257.5h-2.3ZM512.12 241.8h2.3V247.2h-2.3ZM517.57 242.4h2.3V247.8h-2.3ZM520.3 227.3h2.3V242.4h-2.3ZM528.49 216.4h2.3V233.3h-2.3ZM533.94 210.9h2.3V220h-2.3ZM536.67 192.2h2.3V210.9h-2.3ZM544.85 227.9h2.3V228.9h-2.3ZM547.58 227.9h2.3V228.9h-2.3ZM555.77 246.6h2.3V255.1h-2.3ZM561.22 230.9h2.3V257.5h-2.3ZM572.13 261.7h2.3V272h-2.3ZM577.59 257.5h2.3V265.4h-2.3ZM583.05 279.9h2.3V282.3h-2.3ZM588.5 277.5h2.3V283.5h-2.3ZM591.23 265.4h2.3V277.5h-2.3ZM593.96 262.3h2.3V265.4h-2.3ZM599.41 268.4h2.3V269.4h-2.3ZM604.87 266h2.3V271.4h-2.3ZM607.6 259.9h2.3V266h-2.3ZM613.05 249h2.3V263.5h-2.3ZM615.78 239.4h2.3V249h-2.3ZM618.51 235.7h2.3V239.4h-2.3ZM626.69 240h2.3V241h-2.3ZM629.42 231.5h2.3V240h-2.3ZM634.88 229.7h2.3V233.9h-2.3ZM640.33 238.1h2.3V239.1h-2.3ZM651.25 252.7h2.3V260.5h-2.3ZM656.7 274.4h2.3V278.7h-2.3ZM659.43 274.4h2.3V275.4h-2.3ZM662.16 259.3h2.3V274.4h-2.3ZM664.89 246h2.3V259.3h-2.3ZM670.34 220.6h2.3V248.4h-2.3ZM673.07 208.5h2.3V220.6h-2.3ZM675.8 198.2h2.3V208.5h-2.3ZM678.53 197.6h2.3V198.6h-2.3ZM681.25 191h2.3V197.6h-2.3ZM683.98 183.7h2.3V191h-2.3ZM689.44 192.2h2.3V203.7h-2.3ZM700.35 242.4h2.3V267.8h-2.3ZM703.08 241.2h2.3V242.4h-2.3ZM716.72 289.6h2.3V294.4h-2.3ZM719.45 281.1h2.3V289.6h-2.3ZM722.17 269.6h2.3V281.1h-2.3ZM730.36 272.6h2.3V287.1h-2.3ZM733.09 266.6h2.3V272.6h-2.3ZM735.81 262.9h2.3V266.6h-2.3ZM738.54 245.4h2.3V262.9h-2.3ZM752.18 275h2.3V282.9h-2.3ZM754.91 272h2.3V275h-2.3ZM757.64 269.6h2.3V272h-2.3ZM765.82 309.5h2.3V324h-2.3ZM771.28 313.1h2.3V325.2h-2.3ZM776.73 304.7h2.3V319.2h-2.3ZM779.46 296.8h2.3V304.7h-2.3ZM793.1 359.7h2.3V366.4h-2.3ZM801.29 376h2.3V380.9h-2.3ZM814.93 412.9h2.3V425.6h-2.3ZM817.65 403.9h2.3V412.9h-2.3Z" fill="#0a9079"/>
<path d="M7.44 304.7h2.3V318.6h-2.3ZM10.17 318.6h2.3V329.5h-2.3ZM12.89 329.5h2.3V347h-2.3ZM18.35 325.2h2.3V346.4h-2.3ZM21.08 346.4h2.3V353.7h-2.3ZM23.81 353.7h2.3V354.7h-2.3ZM29.26 354.3h2.3V355.3h-2.3ZM37.45 348.8h2.3V359.1h-2.3ZM42.9 346.4h2.3V353.7h-2.3ZM51.09 348.2h2.3V356.7h-2.3ZM53.81 356.7h2.3V359.1h-2.3ZM56.54 359.1h2.3V360.1h-2.3ZM64.73 343.4h2.3V356.7h-2.3ZM70.18 354.3h2.3V356.1h-2.3ZM72.91 356.1h2.3V384.5h-2.3ZM75.64 384.5h2.3V401.4h-2.3ZM78.37 401.4h2.3V428.7h-2.3ZM83.82 425.6h2.3V428.1h-2.3ZM92.01 368.2h2.3V416.6h-2.3ZM100.19 390h2.3V394.2h-2.3ZM102.92 394.2h2.3V413.5h-2.3ZM105.65 413.5h2.3V416.6h-2.3ZM108.37 416.6h2.3V449.8h-2.3ZM111.1 449.8h2.3V462.5h-2.3ZM119.29 431.7h2.3V447.4h-2.3ZM127.47 428.1h2.3V438.3h-2.3ZM132.93 429.9h2.3V437.7h-2.3ZM138.38 412.9h2.3V428.7h-2.3ZM141.11 428.7h2.3V429.9h-2.3ZM143.84 429.9h2.3V431.1h-2.3ZM152.02 408.7h2.3V409.7h-2.3ZM154.75 409.3h2.3V412.3h-2.3ZM160.21 410.5h2.3V427.4h-2.3ZM162.93 427.4h2.3V438.3h-2.3ZM165.66 438.3h2.3V440.1h-2.3ZM173.85 422.6h2.3V438.9h-2.3ZM182.03 430.5h2.3V432.9h-2.3ZM184.76 432.9h2.3V463.7h-2.3ZM190.21 459.5h2.3V476.4h-2.3ZM195.67 438.3h2.3V456.5h-2.3ZM203.85 422h2.3V431.7h-2.3ZM209.31 426.2h2.3V432.3h-2.3ZM217.49 424.4h2.3V426.8h-2.3ZM239.32 365.2h2.3V366.2h-2.3ZM242.05 365.8h2.3V370.6h-2.3ZM247.5 363.3h2.3V367.6h-2.3ZM250.23 367.6h2.3V368.6h-2.3ZM258.41 351.8h2.3V357.9h-2.3ZM261.14 357.9h2.3V367.6h-2.3ZM274.78 313.7h2.3V315h-2.3ZM280.24 304.1h2.3V308.3h-2.3ZM282.97 308.3h2.3V316.2h-2.3ZM288.42 308.3h2.3V311.9h-2.3ZM293.88 310.7h2.3V311.9h-2.3ZM296.61 311.9h2.3V313.7h-2.3ZM302.06 293.8h2.3V299.2h-2.3ZM312.97 262.3h2.3V288.9h-2.3ZM323.89 276.2h2.3V278.7h-2.3ZM326.61 278.7h2.3V285.9h-2.3ZM329.34 285.9h2.3V299.2h-2.3ZM332.07 299.2h2.3V308.9h-2.3ZM342.98 297.4h2.3V300.4h-2.3ZM345.71 300.4h2.3V304.7h-2.3ZM348.44 304.7h2.3V324h-2.3ZM364.81 270.8h2.3V280.5h-2.3ZM367.53 280.5h2.3V298.6h-2.3ZM372.99 296.2h2.3V300.4h-2.3ZM381.17 292h2.3V305.3h-2.3ZM386.63 303.5h2.3V304.7h-2.3ZM389.36 304.7h2.3V313.1h-2.3ZM392.09 313.1h2.3V321h-2.3ZM394.81 321h2.3V327.1h-2.3ZM405.73 288.3h2.3V290.8h-2.3ZM416.64 282.3h2.3V290.2h-2.3ZM419.37 290.2h2.3V298.6h-2.3ZM427.55 275h2.3V284.7h-2.3ZM435.73 277.5h2.3V282.9h-2.3ZM449.37 227.3h2.3V228.3h-2.3ZM457.56 213.3h2.3V225.4h-2.3ZM465.74 216.4h2.3V224.2h-2.3ZM468.47 224.2h2.3V225.2h-2.3ZM471.2 224.8h2.3V228.5h-2.3ZM479.38 212.1h2.3V219.4h-2.3ZM482.11 219.4h2.3V221.8h-2.3ZM484.84 221.8h2.3V226.7h-2.3ZM493.02 215.8h2.3V224.2h-2.3ZM495.75 224.2h2.3V225.2h-2.3ZM498.48 224.8h2.3V225.8h-2.3ZM501.21 225.4h2.3V237.5h-2.3ZM503.93 237.5h2.3V252.7h-2.3ZM506.66 252.7h2.3V257.5h-2.3ZM514.85 241.8h2.3V247.8h-2.3ZM523.03 227.3h2.3V232.1h-2.3ZM525.76 232.1h2.3V233.3h-2.3ZM531.21 216.4h2.3V220h-2.3ZM539.4 192.2h2.3V222.4h-2.3ZM542.13 222.4h2.3V228.5h-2.3ZM550.31 227.9h2.3V234.5h-2.3ZM553.04 234.5h2.3V255.1h-2.3ZM558.49 246.6h2.3V257.5h-2.3ZM563.95 230.9h2.3V240h-2.3ZM566.68 240h2.3V251.5h-2.3ZM569.41 251.5h2.3V272h-2.3ZM574.86 261.7h2.3V265.4h-2.3ZM580.32 257.5h2.3V282.3h-2.3ZM585.77 279.9h2.3V283.5h-2.3ZM596.69 262.3h2.3V268.4h-2.3ZM602.14 268.4h2.3V271.4h-2.3ZM610.33 259.9h2.3V263.5h-2.3ZM621.24 235.7h2.3V236.9h-2.3ZM623.97 236.9h2.3V240.6h-2.3ZM632.15 231.5h2.3V233.9h-2.3ZM637.61 229.7h2.3V238.1h-2.3ZM643.06 238.1h2.3V240.6h-2.3ZM645.79 240.6h2.3V256.3h-2.3ZM648.52 256.3h2.3V260.5h-2.3ZM653.97 252.7h2.3V278.7h-2.3ZM667.61 246h2.3V248.4h-2.3ZM686.71 183.7h2.3V203.7h-2.3ZM692.17 192.2h2.3V201.9h-2.3ZM694.89 201.9h2.3V254.5h-2.3ZM697.62 254.5h2.3V267.8h-2.3ZM705.81 241.2h2.3V253.9h-2.3ZM708.53 253.9h2.3V267.8h-2.3ZM711.26 267.8h2.3V283.5h-2.3ZM713.99 283.5h2.3V294.4h-2.3ZM724.9 269.6h2.3V282.3h-2.3ZM727.63 282.3h2.3V287.1h-2.3ZM741.27 245.4h2.3V247.8h-2.3ZM744 247.8h2.3V255.1h-2.3ZM746.73 255.1h2.3V272.6h-2.3ZM749.45 272.6h2.3V282.9h-2.3ZM760.37 269.6h2.3V293.8h-2.3ZM763.09 293.8h2.3V324h-2.3ZM768.55 309.5h2.3V325.2h-2.3ZM774.01 313.1h2.3V319.2h-2.3ZM782.19 296.8h2.3V315h-2.3ZM784.92 315h2.3V323.4h-2.3ZM787.65 323.4h2.3V334.9h-2.3ZM790.37 334.9h2.3V366.4h-2.3ZM795.83 359.7h2.3V368.2h-2.3ZM798.56 368.2h2.3V380.9h-2.3ZM804.01 376h2.3V384.5h-2.3ZM806.74 384.5h2.3V414.1h-2.3ZM809.47 414.1h2.3V423.2h-2.3ZM812.2 423.2h2.3V425.6h-2.3ZM820.38 404.1h2.3V411.6h-2.3Z" fill="#ee3a4a"/>
<path d="M685.2 174.8L916 403.8M9 572.1L916 434.7" stroke="#17836b" stroke-width="1.9" fill="none" stroke-linecap="butt"/>
</g>
<g>
<circle cx="821.8" cy="602.2" r="8.6" fill="#fff" stroke="#6f1fa0" stroke-width="1.2"/>
<path d="M824.2 597.2l-5.2 5.6h2.9l-2.6 4.8 5.6-6h-3z" fill="#6f1fa0"/>
<circle cx="827.8" cy="596.5" r="3.1" fill="#fff"/><circle cx="827.8" cy="596.5" r="2" fill="#e8334a"/>
<circle cx="824.6" cy="623.5" r="9.2" fill="#fff" stroke="#e8414f" stroke-width="1.2"/>
<circle cx="821.6" cy="623.5" r="9.2" fill="#fff" stroke="#e8414f" stroke-width="1.6"/>
<clipPath id="fl"><circle cx="821.6" cy="623.5" r="6.6"/></clipPath>
<g clip-path="url(#fl)"><rect x="814" y="616" width="16" height="15" fill="#fff"/>
<rect x="814" y="617.2" width="16" height="2.2" fill="#e8525c"/><rect x="814" y="621.6" width="16" height="2.2" fill="#e8525c"/><rect x="814" y="626.2" width="16" height="2.6" fill="#e8525c"/>
<rect x="814" y="616" width="8.6" height="8" fill="#3f8fd6"/></g>
</g>
<rect x="878" y="639" width="122" height="72" fill="#fff"/>
<path d="M887.3 642H903.5V694.8H923.3V709.4H907.9Z" fill="#1d79c9"/>
<path d="M887.3 642L907.9 709.4H887.3Z" fill="url(#lg)"/>
</svg>
<div class="t" style="left:9px;top:7.5px;font-size:11.5px;letter-spacing:-0.26px;">ChartAnalysis_4 created with TradingView.com, Nov 25, 2025 10:04 UTC</div>
<div class="t" style="left:16px;top:31.7px;font-size:11px;letter-spacing:-0.179px;">Bitcoin / U.S. Dollar · 1D · Coinbase</div>
<div class="t" style="left:192px;top:31.7px;font-size:11px;letter-spacing:0.133px;">O<span style="color:#f23645">88,264.00</span></div>
<div class="t" style="left:256.7px;top:31.7px;font-size:11px;letter-spacing:0.157px;">H<span style="color:#f23645">88,486.82</span></div>
<div class="t" style="left:321px;top:31.7px;font-size:11px;letter-spacing:0.138px;">L<span style="color:#f23645">86,654.96</span></div>
<div class="t" style="left:383.3px;top:31.7px;font-size:11px;letter-spacing:-0.055px;">C<span style="color:#f23645">87,028.40</span></div>
<div class="t" style="left:447px;top:31.7px;font-size:11px;letter-spacing:-0.191px;color:#f23645">−1,237.80 (−1.40%)</div>
<div class="t" style="left:16px;top:46.2px;font-size:11px;letter-spacing:-0.009px;">EMA 20/50/100/200</div>
<div class="t" style="left:119.5px;top:46.2px;font-size:11px;letter-spacing:-0.33px;color:#ee3a40">93,937.31</div>
<div class="t" style="left:173.6px;top:46.2px;font-size:11px;letter-spacing:-0.718px;color:#f59a3c">101,716.97</div>
<div class="t" style="left:230px;top:46.2px;font-size:11px;letter-spacing:-0.562px;color:#4fdde8">106,144.14</div>
<div class="t" style="left:287.7px;top:46.2px;font-size:11px;letter-spacing:-0.34px;color:#2323c8">105,813.26</div>
<div class="t" style="left:16px;top:60.7px;font-size:11px;letter-spacing:-0.105px;">Supertrend (10, 3)</div>
<div class="t" style="left:110.4px;top:62.2px;font-size:8.5px;letter-spacing:0px;color:#555;-webkit-text-stroke:0">∅</div>
<div class="t" style="left:124.7px;top:60.7px;font-size:11px;letter-spacing:-0.105px;color:#f23645">98,103.49</div>
<div class="t ax" style="top:600.4px">55,000.00</div>
<div class="t ax" style="top:570.1px">60,000.00</div>
<div class="t ax" style="top:539.9px">65,000.00</div>
<div class="t ax" style="top:509.6px">70,000.00</div>
<div class="t ax" style="top:479.4px">75,000.00</div>
<div class="t ax" style="top:449.2px">80,000.00</div>
<div class="t ax" style="top:418.9px">85,000.00</div>
<div class="t ax" style="top:388.7px">90,000.00</div>
<div class="t ax" style="top:358.4px">95,000.00</div>
<div class="t ax" style="top:328.2px">100,000.00</div>
<div class="t ax" style="top:298.0px">105,000.00</div>
<div class="t ax" style="top:267.7px">110,000.00</div>
<div class="t ax" style="top:237.5px">115,000.00</div>
<div class="t ax" style="top:207.2px">120,000.00</div>
<div class="t ax" style="top:177.0px">125,000.00</div>
<div class="t ax" style="top:146.8px">130,000.00</div>
<div class="t ax" style="top:116.5px">135,000.00</div>
<div class="t ax" style="top:86.3px">140,000.00</div>
<div class="t ax" style="top:56.0px">145,000.00</div>
<div class="t ax" style="top:25.8px">150,000.00</div>
<div class="tx">
<div class="t mo" style="left:2.3px;top:6px">Feb</div>
<div class="t mo" style="left:78.7px;top:6px">Mar</div>
<div class="t mo" style="left:163.3px;top:6px">Apr</div>
<div class="t mo" style="left:245.1px;top:6px">May</div>
<div class="t mo" style="left:329.7px;top:6px">Jun</div>
<div class="t mo" style="left:411.5px;top:6px">Jul</div>
<div class="t mo" style="left:496.1px;top:6px">Aug</div>
<div class="t mo" style="left:580.7px;top:6px">Sep</div>
<div class="t mo" style="left:662.5px;top:6px">Oct</div>
<div class="t mo" style="left:747.1px;top:6px">Nov</div>
<div class="t mo" style="left:828.9px;top:6px">Dec</div>
</div>
<div class="pl" style="top:228px;width:69px;background:#4caf50">116,289.52</div>
<div class="pl" style="top:278px;width:69px;background:#22e6f5;color:#131722">106,144.14</div>
<div class="pl" style="top:292px;width:69px;background:#1414f0">105,813.26</div>
<div class="pl" style="top:317px;width:69px;background:#f57c00">101,716.97</div>
<div class="pl" style="top:339px;width:64px;background:#f23645">98,103.49</div>
<div class="pl" style="top:364px;width:64px;background:#f5051b">93,937.31</div>
<div class="pl" style="top:405px;width:64px;height:26px;background:#f23645;line-height:13px">87,028.40<br>13:55:33</div>
<div class="pl" style="top:405px;left:868px;width:48px;height:14px;background:#f23645;padding-left:3.6px;letter-spacing:-0.55px">BTCUSD</div>
<svg class="t" style="left:10.2px;top:674.9px" width="36" height="28" viewBox="0 0 36 28"><g transform="scale(0.722 0.735)" fill="#131722"><path d="M14 22H7V11H0V4h14v18zM28 22h-8l7.500-18h8L28 22z"/><circle cx="20" cy="8" r="4"/></g></svg>
<div class="t tv">TradingView</div>
<div class="t wm1">链懂</div>
<div class="t wm2">NEATDOWN.COM</div>
</body></html>
